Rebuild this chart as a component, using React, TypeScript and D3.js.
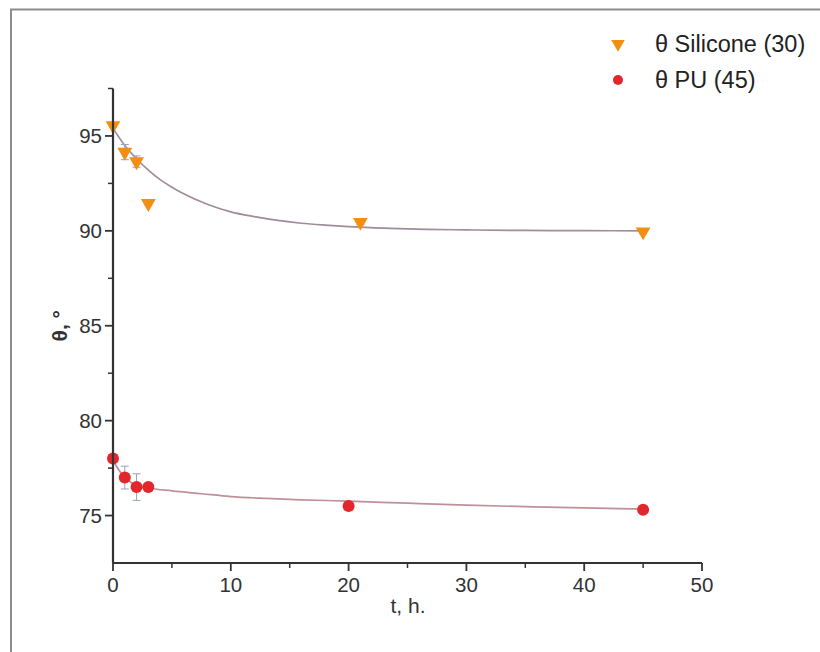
import React from "react";
import * as d3 from "d3";

// measured points
const siliconeT = [0, 1, 2, 3, 21, 45];
const siliconeTheta = [95.55, 94.15, 93.65, 91.45, 90.45, 89.95];
const siliconeErr = [0.1, 0.4, 0.3, 0.1, 0.1, 0.1];

const puT = [0, 1, 2, 3, 20, 45];
const puTheta = [78.0, 77.0, 76.5, 76.5, 75.5, 75.3];
const puErr = [0.1, 0.6, 0.7, 0.1, 0.15, 0.1];

// fitted curves
const fitT = [0, 1, 2, 3, 4, 5, 6, 8, 10, 12, 14, 16, 18, 20, 25, 30, 35, 40, 45];
const siliconeFit = [95.4, 94.5, 93.8, 93.2, 92.7, 92.3, 91.95, 91.4, 91.0, 90.75, 90.55, 90.4, 90.3, 90.22, 90.1, 90.05, 90.02, 90.01, 90.0];
const puFitT = [0, 0.5, 1, 1.5, 2, 3, 5, 7.5, 10, 13, 16, 20, 25, 30, 35, 40, 45];
const puFit = [77.9, 77.4, 77.0, 76.75, 76.6, 76.45, 76.3, 76.15, 76.0, 75.9, 75.83, 75.76, 75.65, 75.55, 75.47, 75.4, 75.34];

const xTicks = [0, 10, 20, 30, 40, 50];
const yTicks = [75, 80, 85, 90, 95];

const font = "'Liberation Sans', Arial, sans-serif";
const orange = "#f28f12";
const red = "#e3262b";

export default function App() {
  const x = d3.scaleLinear().domain([0, 50]).range([113, 702]);
  const y = d3.scaleLinear().domain([72.5, 97.5]).range([563, 88.5]);

  const line = d3
    .line<[number, number]>()
    .x((d) => x(d[0]))
    .y((d) => y(d[1]))
    .curve(d3.curveMonotoneX);

  const xMinor = d3.range(5, 50, 10);
  const yMinor = d3.range(77.5, 97.6, 5);

  const tri = d3.symbol(d3.symbolTriangle, 95)();
  const triLegend = d3.symbol(d3.symbolTriangle, 80)();

  return (
    <div style={{ position: "absolute", left: 0, top: 0 }}>
      <svg width={820} height={652} style={{ display: "block", background: "#fff" }}>
        <rect x={11} y={9.5} width={900} height={800} fill="none" stroke="#8c8c8c" strokeWidth={2} />

        {/* fits */}
        <path d={line(fitT.map((t, i) => [t, siliconeFit[i]]))!} fill="none" stroke="#a08c9c" strokeWidth={1.7} />
        <path d={line(puFitT.map((t, i) => [t, puFit[i]]))!} fill="none" stroke="#c0909a" strokeWidth={1.7} />

        {/* error bars */}
        {[
          { ts: siliconeT, vs: siliconeTheta, es: siliconeErr },
          { ts: puT, vs: puTheta, es: puErr },
        ].map((s, k) =>
          s.ts.map((t, i) => (
            <g key={`e${k}-${i}`} stroke="#9aa2b4" strokeWidth={1}>
              <line x1={x(t)} x2={x(t)} y1={y(s.vs[i] - s.es[i])} y2={y(s.vs[i] + s.es[i])} />
              <line x1={x(t) - 4} x2={x(t) + 4} y1={y(s.vs[i] - s.es[i])} y2={y(s.vs[i] - s.es[i])} />
              <line x1={x(t) - 4} x2={x(t) + 4} y1={y(s.vs[i] + s.es[i])} y2={y(s.vs[i] + s.es[i])} />
            </g>
          ))
        )}

        {/* markers */}
        {siliconeT.map((t, i) => (
          <path key={`s${i}`} d={tri!} transform={`translate(${x(t)},${y(siliconeTheta[i])}) rotate(180)`} fill={orange} />
        ))}
        {puT.map((t, i) => (
          <circle key={`p${i}`} cx={x(t)} cy={y(puTheta[i])} r={6} fill={red} />
        ))}

        {/* axes */}
        <g stroke="#333" strokeWidth={2.2} fill="none">
          <line x1={x(0)} x2={x(0)} y1={y(97.5)} y2={y(72.5)} />
          <line x1={x(0)} x2={x(50)} y1={y(72.5)} y2={y(72.5)} />
          {yTicks.map((v) => (
            <line key={`yt${v}`} x1={x(0) - 8} x2={x(0)} y1={y(v)} y2={y(v)} strokeWidth={1.8} />
          ))}
          {yMinor.map((v) => (
            <line key={`ym${v}`} x1={x(0) - 5} x2={x(0)} y1={y(v)} y2={y(v)} strokeWidth={1.5} />
          ))}
          {xTicks.map((v) => (
            <line key={`xt${v}`} x1={x(v)} x2={x(v)} y1={y(72.5)} y2={y(72.5) + 8} strokeWidth={1.8} />
          ))}
          {xMinor.map((v) => (
            <line key={`xm${v}`} x1={x(v)} x2={x(v)} y1={y(72.5)} y2={y(72.5) + 5} strokeWidth={1.5} />
          ))}
        </g>

        <g fontFamily={font} fontSize={20.5} fill="#333">
          {yTicks.map((v) => (
            <text key={`yl${v}`} x={x(0) - 11} y={y(v)} dy="0.36em" textAnchor="end">
              {v}
            </text>
          ))}
          {xTicks.map((v) => (
            <text key={`xl${v}`} x={x(v)} y={y(72.5) + 29} textAnchor="middle">
              {v}
            </text>
          ))}
          <text x={408} y={613} textAnchor="middle" fontSize={21}>
            t, h.
          </text>
          <text transform={`translate(67,${y(85)}) rotate(-90)`} textAnchor="middle" fontSize={21} fontWeight="bold">
            θ, °
          </text>
        </g>

        {/* legend */}
        <g fontFamily={font} fontSize={23.5} fill="#222">
          <path d={triLegend!} transform="translate(618,44) rotate(180)" fill={orange} />
          <text x={655} y={52}>θ Silicone (30)</text>
          <circle cx={618} cy={80} r={5} fill={red} />
          <text x={655} y={88}>θ PU (45)</text>
        </g>
      </svg>
    </div>
  );
}
